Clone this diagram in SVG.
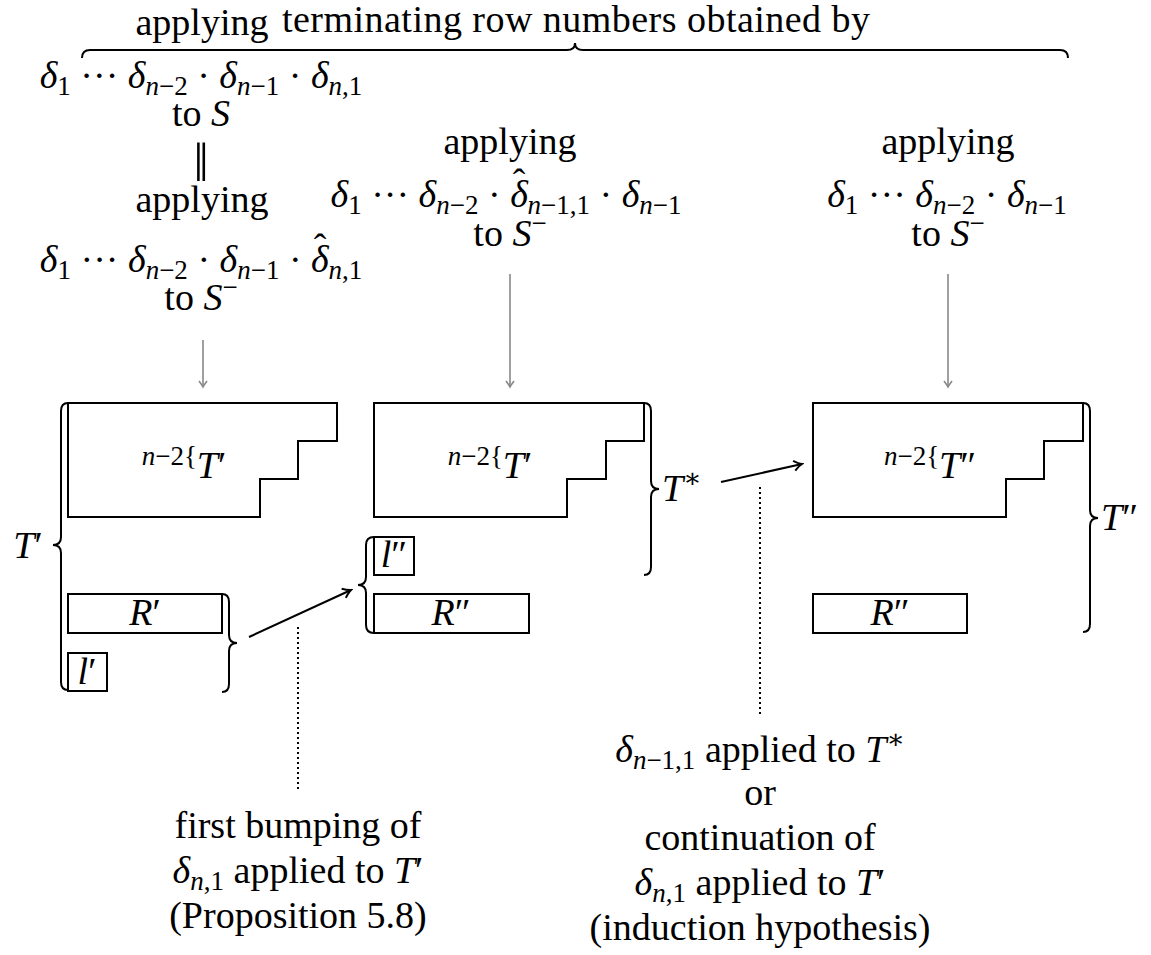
<svg xmlns="http://www.w3.org/2000/svg" width="1151" height="955" viewBox="0 0 1151 955">
<style>
.t{font-family:"Liberation Serif","DejaVu Serif",serif;font-size:38px;fill:#000}
.i{font-style:italic}
.s{font-size:27px}
.box{fill:none;stroke:#000;stroke-width:2}
.br{fill:none;stroke:#000;stroke-width:2}
.ga{stroke:#888;stroke-width:1.6;fill:none}
.ba{stroke:#000;stroke-width:2;fill:none}
.dot{stroke:#000;stroke-width:2;stroke-dasharray:2 3;fill:none}
</style>
<defs>
<marker id="gh" viewBox="-10 -6 12 12" refX="0" refY="0" markerWidth="12" markerHeight="12" markerUnits="userSpaceOnUse" orient="auto">
<path d="M-6,-4 Q-2,-1 0,0 Q-2,1 -6,4" fill="none" stroke="#888" stroke-width="1.6"/>
</marker>
<marker id="bh" viewBox="-12 -7 14 14" refX="0" refY="0" markerWidth="14" markerHeight="14" markerUnits="userSpaceOnUse" orient="auto">
<path d="M-8,-5 Q-3,-1 0,0 Q-3,1 -8,5" fill="none" stroke="#000" stroke-width="2"/>
</marker>
</defs>

<g id="top-label">
<text class="t" x="576" y="32" text-anchor="middle" textLength="588">terminating row numbers obtained by</text>
<path class="br" d="M82,58 Q82,50 90,50 L567,50 Q575,50 575,43 Q575,50 583,50 L1060,50 Q1068,50 1068,58"/>
</g>

<g id="src-left">
<text class="t" x="202" y="35" text-anchor="middle">applying</text>
<text class="t" x="201" y="88" text-anchor="middle"><tspan class="i">δ</tspan><tspan class="s" dy="7">1</tspan><tspan dy="-7"> ··· </tspan><tspan class="i">δ</tspan><tspan class="s" dy="7"><tspan class="i">n</tspan>−2</tspan><tspan dy="-7"> · </tspan><tspan class="i">δ</tspan><tspan class="s" dy="7"><tspan class="i">n</tspan>−1</tspan><tspan dy="-7"> · </tspan><tspan class="i">δ</tspan><tspan class="s" dy="7"><tspan class="i">n</tspan>,1</tspan></text>
<text class="t" x="201" y="126" text-anchor="middle">to <tspan class="i">S</tspan></text>
<text class="t" x="201" y="181" text-anchor="middle" style="font-size:54px">‖</text>
<text class="t" x="202" y="212" text-anchor="middle">applying</text>
<text class="t" x="201" y="272" text-anchor="middle"><tspan class="i">δ</tspan><tspan class="s" dy="7">1</tspan><tspan dy="-7"> ··· </tspan><tspan class="i">δ</tspan><tspan class="s" dy="7"><tspan class="i">n</tspan>−2</tspan><tspan dy="-7"> · </tspan><tspan class="i">δ</tspan><tspan class="s" dy="7"><tspan class="i">n</tspan>−1</tspan><tspan dy="-7"> · </tspan><tspan class="i">δ</tspan><tspan dx="-15" dy="-12">ˆ</tspan><tspan class="s" dx="2" dy="19"><tspan class="i">n</tspan>,1</tspan></text>
<text class="t" x="201" y="310" text-anchor="middle">to <tspan class="i">S</tspan><tspan class="s" dy="-14">−</tspan></text>
</g>

<g id="src-mid">
<text class="t" x="510" y="154" text-anchor="middle">applying</text>
<text class="t" x="506" y="207" text-anchor="middle"><tspan class="i">δ</tspan><tspan class="s" dy="7">1</tspan><tspan dy="-7"> ··· </tspan><tspan class="i">δ</tspan><tspan class="s" dy="7"><tspan class="i">n</tspan>−2</tspan><tspan dy="-7"> · </tspan><tspan class="i">δ</tspan><tspan dx="-15" dy="-12">ˆ</tspan><tspan class="s" dx="2" dy="19"><tspan class="i">n</tspan>−1,1</tspan><tspan dy="-7"> · </tspan><tspan class="i">δ</tspan><tspan class="s" dy="7"><tspan class="i">n</tspan>−1</tspan></text>
<text class="t" x="510" y="246" text-anchor="middle">to <tspan class="i">S</tspan><tspan class="s" dy="-14">−</tspan></text>
</g>

<g id="src-right">
<text class="t" x="948" y="154" text-anchor="middle">applying</text>
<text class="t" x="947" y="207" text-anchor="middle"><tspan class="i">δ</tspan><tspan class="s" dy="7">1</tspan><tspan dy="-7"> ··· </tspan><tspan class="i">δ</tspan><tspan class="s" dy="7"><tspan class="i">n</tspan>−2</tspan><tspan dy="-7"> · </tspan><tspan class="i">δ</tspan><tspan class="s" dy="7"><tspan class="i">n</tspan>−1</tspan></text>
<text class="t" x="948" y="246" text-anchor="middle">to <tspan class="i">S</tspan><tspan class="s" dy="-14">−</tspan></text>
</g>

<g id="tab-left">
<path class="box" d="M68,403 L337,403 L337,441 L298,441 L298,479 L260,479 L260,517 L68,517 Z"/>
<text class="t" x="184" y="478" text-anchor="middle"><tspan class="s i" dy="-13">n</tspan><tspan class="s">−2{</tspan><tspan class="i" dy="13">T</tspan>′</text>
<rect class="box" x="68" y="594" width="154" height="39"/>
<text class="t" x="145" y="625" text-anchor="middle"><tspan class="i">R</tspan>′</text>
<rect class="box" x="68" y="653" width="39" height="38"/>
<text class="t" x="87" y="684" text-anchor="middle"><tspan class="i">l</tspan>′</text>
<path class="br" d="M68,403 Q61,403 61,411 L61,537 Q61,545 53,545 Q61,545 61,553 L61,682 Q61,690 68,690"/>
<text class="t" x="28" y="558" text-anchor="middle"><tspan class="i">T</tspan>′</text>
<path class="br" d="M222,594 Q229,594 229,602 L229,635 Q229,643 237,643 Q229,643 229,651 L229,684 Q229,692 222,692"/>
</g>

<g id="tab-mid">
<path class="box" d="M374,403 L644,403 L644,441 L606,441 L606,479 L567,479 L567,517 L374,517 Z"/>
<text class="t" x="490" y="478" text-anchor="middle"><tspan class="s i" dy="-13">n</tspan><tspan class="s">−2{</tspan><tspan class="i" dy="13">T</tspan>′</text>
<rect class="box" x="374" y="537" width="40" height="38"/>
<text class="t" x="394" y="567" text-anchor="middle"><tspan class="i">l</tspan>″</text>
<rect class="box" x="374" y="594" width="155" height="39"/>
<text class="t" x="451" y="625" text-anchor="middle"><tspan class="i">R</tspan>″</text>
<path class="br" d="M374,537 Q366,537 366,545 L366,577 Q366,585 358,585 Q366,585 366,593 L366,625 Q366,633 374,633"/>
<path class="br" d="M644,403 Q651,403 651,411 L651,481 Q651,489 659,489 Q651,489 651,497 L651,567 Q651,575 644,575"/>
<text class="t" x="662" y="501"><tspan class="i">T</tspan><tspan class="s" dy="-14">∗</tspan></text>
</g>

<g id="tab-right">
<path class="box" d="M813,403 L1083,403 L1083,441 L1044,441 L1044,479 L1006,479 L1006,517 L813,517 Z"/>
<text class="t" x="930" y="478" text-anchor="middle"><tspan class="s i" dy="-13">n</tspan><tspan class="s">−2{</tspan><tspan class="i" dy="13">T</tspan>″</text>
<rect class="box" x="813" y="594" width="154" height="39"/>
<text class="t" x="890" y="625" text-anchor="middle"><tspan class="i">R</tspan>″</text>
<path class="br" d="M1083,403 Q1090,403 1090,411 L1090,510 Q1090,518 1098,518 Q1090,518 1090,526 L1090,624 Q1090,632 1083,632"/>
<text class="t" x="1101" y="530"><tspan class="i">T</tspan>″</text>
</g>

<g id="note-left">
<text class="t" x="298" y="838" text-anchor="middle">first bumping of</text>
<text class="t" x="298" y="883" text-anchor="middle"><tspan class="i">δ</tspan><tspan class="s" dy="7"><tspan class="i">n</tspan>,1</tspan><tspan dy="-7"> applied to </tspan><tspan class="i">T</tspan>′</text>
<text class="t" x="298" y="928" text-anchor="middle">(Proposition 5.8)</text>
</g>

<g id="note-right">
<text class="t" x="760" y="762" text-anchor="middle"><tspan class="i">δ</tspan><tspan class="s" dy="7"><tspan class="i">n</tspan>−1,1</tspan><tspan dy="-7"> applied to </tspan><tspan class="i">T</tspan><tspan class="s" dy="-14">∗</tspan></text>
<text class="t" x="760" y="805" text-anchor="middle">or</text>
<text class="t" x="760" y="850" text-anchor="middle">continuation of</text>
<text class="t" x="760" y="895" text-anchor="middle"><tspan class="i">δ</tspan><tspan class="s" dy="7"><tspan class="i">n</tspan>,1</tspan><tspan dy="-7"> applied to </tspan><tspan class="i">T</tspan>′</text>
<text class="t" x="760" y="940" text-anchor="middle">(induction hypothesis)</text>
</g>

<g id="connectors">
<line class="ga" x1="203" y1="340" x2="203" y2="387" marker-end="url(#gh)"/>
<line class="ga" x1="510" y1="274" x2="510" y2="387" marker-end="url(#gh)"/>
<line class="ga" x1="948" y1="274" x2="948" y2="387" marker-end="url(#gh)"/>
<line class="ba" x1="249" y1="637" x2="351" y2="590" marker-end="url(#bh)"/>
<line class="ba" x1="721" y1="482" x2="802" y2="464" marker-end="url(#bh)"/>
<line class="dot" x1="298" y1="627" x2="298" y2="792"/>
<line class="dot" x1="760" y1="487" x2="760" y2="716"/>
</g>
</svg>
